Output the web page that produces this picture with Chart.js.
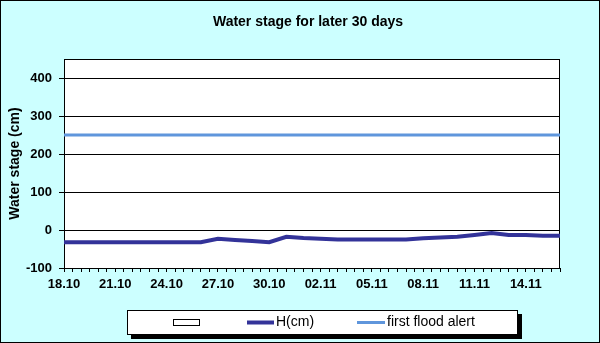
<!DOCTYPE html>
<html><head><meta charset="utf-8">
<script src="https://cdn.jsdelivr.net/npm/chart.js@4.4.0/dist/chart.umd.min.js"></script>
<style>html,body{margin:0;padding:0;background:#CCFFFF;overflow:hidden}</style>
</head><body>
<canvas id="c" width="600" height="343"></canvas>
<script>
const dates = ['18.10','19.10','20.10','21.10','22.10','23.10','24.10','25.10','26.10','27.10','28.10','29.10','30.10','31.10',
  '01.11','02.11','03.11','04.11','05.11','06.11','07.11','08.11','09.11','10.11','11.11','12.11','13.11','14.11','15.11','16.11'];
const levelH = [-32,-32,-32,-32,-32,-32,-32,-32,-32,-23,-26,-29,-32,-18,-21,-23,-25,-25,-25,-25,-25,-22,-20,-18,-13,-8,-13,-13,-15,-15];
const alertLevel = [250,250,250,250,250,250,250,250,250,250,250,250,250,250,250,250,250,250,250,250,250,250,250,250,250,250,250,250,250,250];
const yTicks = [-100,0,100,200,300,400];
const seriesNames = ['', 'H(cm)', 'first flood alert'];
const titleText = 'Water stage for later 30 days';
const yTitle = 'Water stage (cm)';

const FONT = "'Liberation Sans', Arial, sans-serif";
Chart.defaults.font.family = FONT;
Chart.defaults.color = '#000';

const bgPlugin = {
  id: 'bg',
  beforeDraw(chart) {
    const ctx = chart.ctx, a = chart.chartArea;
    ctx.save();
    ctx.fillStyle = '#CCFFFF';
    ctx.fillRect(0, 0, chart.width, chart.height);
    ctx.strokeStyle = '#000';
    ctx.lineWidth = 1;
    ctx.strokeRect(0.5, 0.5, chart.width - 1, chart.height - 1);
    ctx.fillStyle = '#fff';
    ctx.fillRect(a.left, a.top, a.right - a.left, a.bottom - a.top);
    ctx.restore();
  },
  beforeDatasetsDraw(chart) {
    const ctx = chart.ctx, a = chart.chartArea;
    ctx.save();
    ctx.strokeStyle = '#000';
    ctx.lineWidth = 1;
    ctx.strokeRect(Math.round(a.left) + 0.5, Math.round(a.top) + 0.5, Math.round(a.right - a.left) - 1, Math.round(a.bottom - a.top));
    ctx.restore();
  },
  afterLayout(chart) {
    chart.titleBlock.left = 16;
    chart.titleBlock.right = 600;
  },
  afterDraw(chart) {
    const ctx = chart.ctx;
    ctx.save();
    // legend frame with shadow
    ctx.fillStyle = '#000';
    ctx.fillRect(131, 314, 391, 25);
    ctx.fillStyle = '#fff';
    ctx.fillRect(127, 310, 391, 25);
    ctx.strokeStyle = '#000';
    ctx.lineWidth = 1;
    ctx.strokeRect(127.5, 310.5, 390, 24);
    const ds = chart.data.datasets;
    const cy = 322.5;
    // entry 1: empty box
    ctx.fillStyle = '#fff';
    ctx.strokeRect(173.5, 319.5, 26, 6);
    // entry 2, 3: line swatches
    const sw = [[247, 274, 276], [357, 385, 387]];
    ctx.font = '14px ' + FONT;
    ctx.textBaseline = 'middle';
    ctx.textAlign = 'left';
    for (let k = 0; k < 2; k++) {
      const d = ds[k];
      ctx.strokeStyle = d.borderColor;
      ctx.lineWidth = d.borderWidth;
      ctx.beginPath();
      ctx.moveTo(sw[k][0], cy);
      ctx.lineTo(sw[k][1], cy);
      ctx.stroke();
      ctx.fillStyle = '#000';
      ctx.fillText(d.label, sw[k][2], cy);
    }
    ctx.restore();
  }
};

new Chart(document.getElementById('c'), {
  type: 'line',
  data: {
    datasets: [
      { label: seriesNames[1], data: levelH.map((v, i) => ({x: i, y: v})), borderColor: '#333399', borderWidth: 4, pointRadius: 0, tension: 0, fill: false },
      { label: seriesNames[2], data: alertLevel.map((v, i) => ({x: i, y: v})), borderColor: '#5F96DC', borderWidth: 3, pointRadius: 0, tension: 0, fill: false }
    ]
  },
  options: {
    responsive: false,
    animation: false,
    devicePixelRatio: 1,
    layout: { padding: { left: 4, right: 40, top: 0, bottom: 49 } },
    plugins: {
      legend: { display: false },
      tooltip: { enabled: false },
      title: { display: true, text: titleText, font: { size: 14, weight: 'bold' }, color: '#000', padding: { top: 13.6, bottom: 28.6 } }
    },
    scales: {
      x: {
        type: 'linear', min: 0, max: dates.length - 1,
        afterFit(s) { s.height = 26; },
        ticks: {
          stepSize: 0.5, autoSkip: false, maxRotation: 0, minRotation: 0, padding: 5,
          font: { size: 13, weight: 'bold' }, color: '#000',
          callback: (v) => (Number.isInteger(v) && v % 3 === 0) ? dates[v] : ''
        },
        grid: { drawOnChartArea: false, drawTicks: true, tickLength: 4, tickColor: '#000', color: '#000' },
        border: { display: true, color: '#000', width: 1 }
      },
      y: {
        min: -100, max: 450,
        afterFit(s) { s.width = 60; },
        afterBuildTicks(s) { s.ticks = yTicks.map(v => ({ value: v })); },
        ticks: { font: { size: 13, weight: 'bold' }, color: '#000', padding: 7 },
        grid: { color: '#000', lineWidth: 1, tickLength: 5, tickColor: '#000' },
        border: { display: true, color: '#000', width: 1 },
        title: { display: true, text: yTitle, font: { size: 14, weight: 'bold' }, color: '#000', padding: { top: 3, bottom: 0 } }
      }
    }
  },
  plugins: [bgPlugin]
});
</script>
</body></html>
